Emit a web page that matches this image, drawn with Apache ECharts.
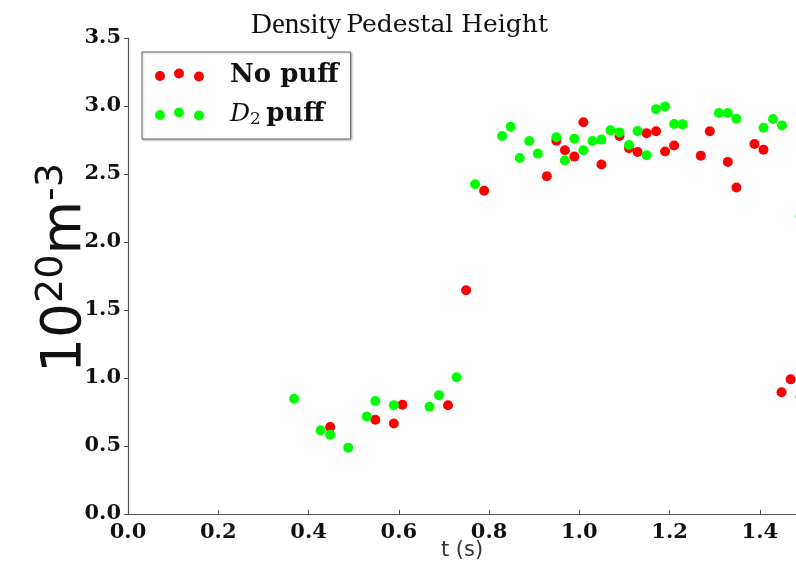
<!DOCTYPE html>
<html><head><meta charset="utf-8">
<script src="https://cdn.jsdelivr.net/npm/echarts@6/dist/echarts.min.js"></script>
<style>html,body{margin:0;padding:0;background:#fff}#c{width:796px;height:564px}</style>
</head><body><div id="c"></div>
<script>
const xTicks = ['0.0','0.2','0.4','0.6','0.8','1.0','1.2','1.4'];
const yTicks = ['0.0','0.5','1.0','1.5','2.0','2.5','3.0','3.5'];
const seriesNames = ['No puff', 'D2 puff'];
const noPuffT = [0.448,0.548,0.589,0.608,0.709,0.749,0.789,0.928,0.949,0.968,0.989,1.009,1.049,1.089,1.110,1.129,1.149,1.170,1.190,1.210,1.269,1.289,1.329,1.348,1.388,1.408,1.448,1.468,1.49];
const noPuffN = [0.639,0.693,0.666,0.803,0.800,1.645,2.377,2.484,2.745,2.674,2.628,2.880,2.570,2.780,2.689,2.662,2.799,2.814,2.665,2.709,2.635,2.814,2.589,2.401,2.721,2.679,0.895,0.99,0.86];
const puffT = [0.368,0.427,0.448,0.488,0.529,0.548,0.589,0.668,0.689,0.728,0.769,0.829,0.848,0.868,0.889,0.908,0.949,0.968,0.989,1.009,1.029,1.049,1.069,1.089,1.110,1.129,1.149,1.170,1.190,1.210,1.229,1.309,1.329,1.348,1.408,1.429,1.449,1.49];
const puffN = [0.847,0.615,0.583,0.488,0.717,0.830,0.800,0.788,0.874,1.005,2.425,2.780,2.848,2.618,2.743,2.650,2.770,2.599,2.760,2.674,2.743,2.753,2.821,2.806,2.713,2.816,2.638,2.977,2.997,2.867,2.865,2.948,2.948,2.906,2.840,2.904,2.857,2.19];

const pairs = (a, b) => a.map((v, i) => [v, b[i]]);
const dotsIcon = 'path://M0,7.5a5,5 0 1,0 10,0a5,5 0 1,0 -10,0M19,5a5,5 0 1,0 10,0a5,5 0 1,0 -10,0M39,8a5,5 0 1,0 10,0a5,5 0 1,0 -10,0';
const axisCol = '#555';
const labelStyle = {fontFamily:'DejaVu Serif', fontWeight:'bold', fontSize:21, color:'#111'};

const chart = echarts.init(document.getElementById('c'), null, {renderer:'canvas'});
chart.setOption({
  animation: false,
  backgroundColor: '#fff',
  title: {
    text: '{a|Density} {b|Pedestal Height}',
    left: 246, top: 6,
    textStyle: {fontWeight:'normal', rich: {
      a: {fontFamily:'Liberation Serif', fontWeight:'normal', fontSize:29, color:'#111'},
      b: {fontFamily:'DejaVu Serif', fontWeight:'normal', fontSize:25, color:'#111'}
    }}
  },
  grid: {left:128, right:0, top:38, bottom:50, containLabel:false, outerBoundsMode:'none'},
  legend: {
    orient:'vertical', left:142, top:52,
    padding:[10,12,11,13],
    backgroundColor:'#fff', borderColor:'#666', borderWidth:1,
    shadowColor:'rgba(0,0,0,0.25)', shadowBlur:2, shadowOffsetX:1, shadowOffsetY:1,
    itemWidth:49, itemHeight:13, itemGap:13,
    icon: dotsIcon,
    formatter: function(n){ return n === 'No puff' ? '{b|No puff}' : '{i|D}{s|2} {b|puff}'; },
    textStyle: {padding:[0,0,0,21], rich: {
      b: {fontFamily:'DejaVu Serif', fontWeight:'bold', fontSize:26, color:'#111', lineHeight:28},
      i: {fontFamily:'DejaVu Serif', fontStyle:'italic', fontSize:25, color:'#111', lineHeight:28},
      s: {fontFamily:'DejaVu Serif', fontSize:17, color:'#111', lineHeight:28, verticalAlign:'bottom', padding:[9,2,0,0]}
    }},
    data: seriesNames
  },
  xAxis: [{
    type:'value', min:0, max:1.48, interval:0.2,
    name:'t (s)', nameLocation:'middle', nameGap:26, nameMoveOverlap:false,
    nameTextStyle:{fontFamily:'DejaVu Sans', fontSize:21, color:'#333', verticalAlign:'top'},
    axisLine:{onZero:false, lineStyle:{color:axisCol, width:1.2}},
    axisTick:{inside:true, length:4, lineStyle:{color:axisCol}},
    axisLabel:{...labelStyle, margin:8, showMaxLabel:false, formatter: v => v.toFixed(1)},
    splitLine:{show:false}
  },{
    type:'value', position:'top', min:0, max:1.48, interval:0.2,
    axisLine:{lineStyle:{color:axisCol, width:1.2}},
    axisTick:{length:4, lineStyle:{color:axisCol}},
    axisLabel:{show:false}, splitLine:{show:false}
  }],
  yAxis: {
    type:'value', min:0, max:3.5, interval:0.5,
    name:'{b|10}{s|20}{b|m}{s|-3}', nameLocation:'middle', nameGap:35, nameMoveOverlap:false,
    nameTextStyle:{padding:[0,0,0,16], rich:{
      b:{fontFamily:'DejaVu Sans', fontSize:55, color:'#111', lineHeight:60, verticalAlign:'bottom'},
      s:{fontFamily:'DejaVu Sans', fontSize:38, color:'#111', lineHeight:60, verticalAlign:'top'}
    }},
    axisLine:{show:true, lineStyle:{color:axisCol, width:1.2}},
    axisTick:{show:true, length:4, lineStyle:{color:axisCol}},
    axisLabel:{...labelStyle, margin:7, formatter: v => v.toFixed(1)},
    splitLine:{show:false}
  },
  series: [
    {name:seriesNames[0], type:'scatter', symbolSize:10, clip:false, itemStyle:{color:'#ff0000', opacity:1}, data:pairs(noPuffT, noPuffN)},
    {name:seriesNames[1], type:'scatter', symbolSize:10, clip:false, itemStyle:{color:'#00ff00', opacity:1}, data:pairs(puffT, puffN)}
  ]
});
</script>
</body></html>
